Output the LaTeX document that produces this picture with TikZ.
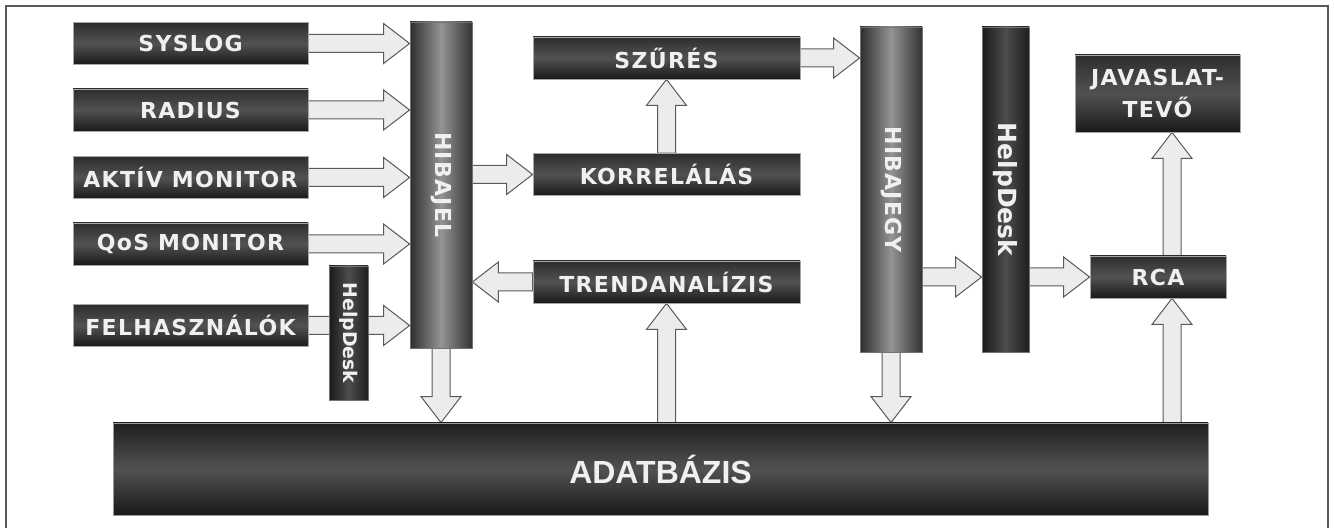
\documentclass[tikz,border=0pt]{standalone}
\usepackage{fontspec}
\setmainfont{DejaVu Sans}
\newfontfamily\boxfont[LetterSpace=6]{DejaVu Sans}
\newfontfamily\dbfont{Liberation Sans}
\usetikzlibrary{calc, backgrounds}

\definecolor{arrowfill}{RGB}{236,236,236}
\definecolor{arrowline}{RGB}{90,90,90}
\definecolor{labelwhite}{RGB}{240,240,240}

\tikzset{
  darkbox/.style={draw=black!35, line width=0.4pt, top color=black!82, bottom color=black!90, middle color=black!68,
    text=labelwhite, font=\boxfont\bfseries\fontsize{11}{16}\selectfont, inner sep=0pt, align=center},
  source/.style={darkbox, minimum width=117.5pt, minimum height=21pt},
  stage/.style={darkbox, minimum width=133.5pt, minimum height=21pt},
  pillar/.style={draw=black!55, line width=0.4pt, left color=black!82, right color=black!80, middle color=black!42,
    text=labelwhite, font=\boxfont\bfseries\fontsize{11}{13}\selectfont, inner sep=0pt},
  desk/.style={draw=black!55, line width=0.4pt, left color=black!90, right color=black!88, middle color=black!70,
    text=labelwhite, font=\bfseries, inner sep=0pt},
  store/.style={draw=black!40, line width=0.4pt, top color=black!88, bottom color=black!90, middle color=black!68,
    text=labelwhite, font=\dbfont\bfseries\fontsize{16}{18}\selectfont, inner sep=0pt},
  fatarrow/.style={draw=arrowline, fill=arrowfill, line width=0.5pt, line join=miter},
}

% block arrow: #1 = tail, #2 = tip
\newcommand{\fatarrow}[2]{%
  \coordinate (fa-base) at ($(#2)!13pt!(#1)$);
  \draw[fatarrow] ($(#1)!4.5pt!90:(#2)$) -- ($(fa-base)!4.5pt!90:(#2)$)
    -- ($(fa-base)!10pt!90:(#2)$) -- (#2) -- ($(fa-base)!10pt!-90:(#2)$)
    -- ($(fa-base)!4.5pt!-90:(#2)$) -- ($(#1)!4.5pt!-90:(#2)$) -- cycle;}

\begin{document}
\begin{tikzpicture}[x=0.5pt, y=-0.5pt]
    \useasboundingbox (0,0) rectangle (1334,528);

    % Sources
    \node[source] (syslog) at (190.5,43.5) {SYSLOG};
    \node[source] (radius) at (190.5,110) {RADIUS};
    \node[source] (aktiv) at (190.5,177.5) {AKTÍV MONITOR};
    \node[source] (qos) at (190.5,244) {QoS MONITOR};
    \node[source] (felh) at (190.5,325.5) {FELHASZNÁLÓK};
    \node[desk, minimum width=19.5pt, minimum height=67pt, font=\bfseries\fontsize{9.4}{11}\selectfont] (desk1) at (348.5,333) {\rotatebox{-90}{HelpDesk}};

    % Error signal collector
    \node[pillar, minimum width=31pt, minimum height=163pt] (hibajel) at (441,185) {\rotatebox{-90}{HIBAJEL}};

    % Processing stages
    \node[stage] (szures) at (666.5,58) {SZŰRÉS};
    \node[stage] (korr) at (666.5,174.5) {KORRELÁLÁS};
    \node[stage] (trend) at (666.5,282) {TRENDANALÍZIS};

    % Tickets and helpdesk
    \node[pillar, minimum width=31pt, minimum height=162.5pt] (hibajegy) at (891,189.5) {\rotatebox{-90}{HIBAJEGY}};
    \node[desk, minimum width=23.5pt, minimum height=162.5pt, font=\bfseries\fontsize{12.5}{14}\selectfont] (desk2) at (1005.5,189.5) {\rotatebox{-90}{HelpDesk}};

    % Root cause analysis
    \node[darkbox, minimum width=68pt, minimum height=21pt] (rca) at (1158,277) {RCA};
    \node[darkbox, minimum width=82.5pt, minimum height=38.5pt] (javaslat) at (1157.5,93.5) {JAVASLAT-\\TEVŐ};

    % Database
    \node[store, minimum width=547.5pt, minimum height=46pt] (adatbazis) at (660.5,469) {ADATBÁZIS};

    \coordinate (rca-up) at ([xshift=7pt]rca.north);
    \coordinate (rca-dn) at ([xshift=7pt]rca.south);

    \begin{scope}[on background layer]
        % outer frame
        \draw[black!65, line width=1pt] (6,528) -- (6,6) -- (1328,6) -- (1328,528);

        % inputs
        \fatarrow{syslog.east}{hibajel.west |- syslog.east}
        \fatarrow{radius.east}{hibajel.west |- radius.east}
        \fatarrow{aktiv.east}{hibajel.west |- aktiv.east}
        \fatarrow{qos.east}{hibajel.west |- qos.east}
        \fatarrow{felh.east}{hibajel.west |- felh.east}

        % processing
        \fatarrow{hibajel.east |- korr.west}{korr.west}
        \fatarrow{trend.west}{hibajel.east |- trend.west}
        \fatarrow{korr.north}{szures.south}
        \fatarrow{trend.south |- adatbazis.north}{trend.south}
        \fatarrow{hibajel.south}{hibajel.south |- adatbazis.north}
        \fatarrow{szures.east}{hibajegy.west |- szures.east}

        % tickets
        \fatarrow{hibajegy.south}{hibajegy.south |- adatbazis.north}
        \fatarrow{hibajegy.east |- rca.west}{desk2.west |- rca.west}
        \fatarrow{desk2.east |- rca.west}{rca.west}
        \fatarrow{rca-up}{rca-up |- javaslat.south}
        \fatarrow{rca-dn |- adatbazis.north}{rca-dn}
    \end{scope}
\end{tikzpicture}
\end{document}
